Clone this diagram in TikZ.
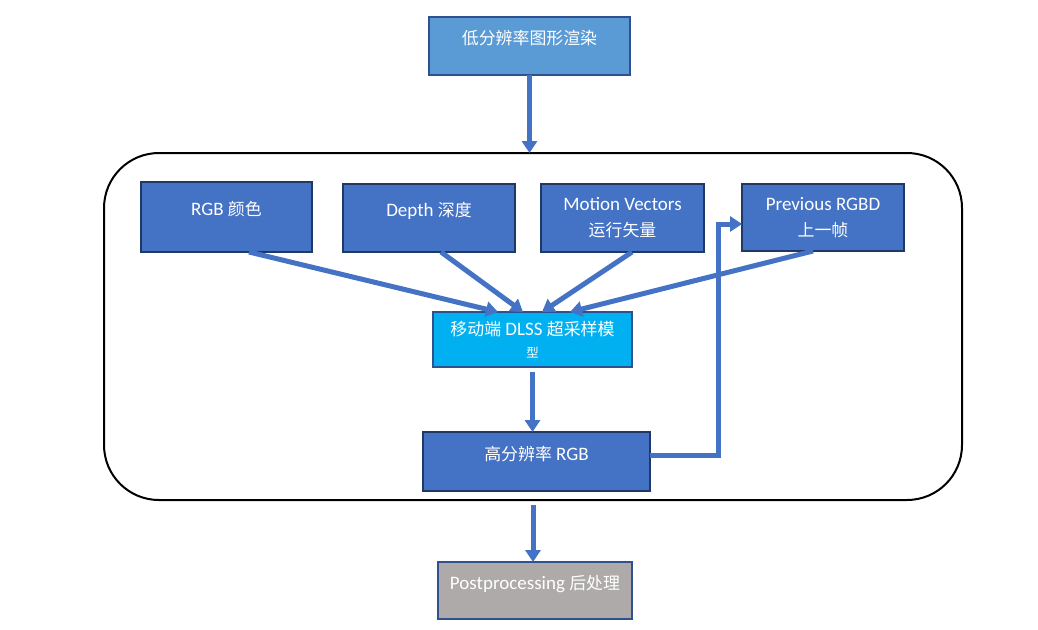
\documentclass[tikz,border=0pt]{standalone}
\usepackage{fontspec}
\setmainfont{Carlito}
\newfontfamily\cjk[Scale=0.89]{Noto Sans CJK SC}
\usetikzlibrary{arrows.meta}
\definecolor{boxblue}{HTML}{4472C4}
\definecolor{boxedge}{HTML}{1F3864}
\definecolor{lightedge}{HTML}{2F528F}
\definecolor{topblue}{HTML}{5B9BD5}
\definecolor{dlsscyan}{HTML}{00B0F0}
\definecolor{postgray}{HTML}{AEAAAA}
\definecolor{arrowblue}{HTML}{4472C4}
\tikzset{
  box/.style={draw=boxedge, line width=2.5pt, fill=boxblue, text=white,
    inner sep=0pt, outer sep=0pt, align=center,
    font=\fontsize{19}{26}\selectfont},
  raised/.style={text height=13pt, text depth=16pt},
  flow/.style={draw=arrowblue, line width=5pt,
    -{Triangle[width=15pt,length=12pt]}},
}
\begin{document}
\begin{tikzpicture}[x=1pt,y=-1pt]
\useasboundingbox (0,0) rectangle (1038,629);
% frame round the model
\node[draw, line width=2pt, rounded corners=55pt, minimum width=858pt,
  minimum height=347pt, outer sep=0pt] (frame) at (533,326.5) {};
% boxes
\node[box, raised, fill=topblue, draw=lightedge, minimum width=201pt, minimum height=58pt]
  (render) at (529.5,46) {\cjk 低分辨率图形渲染};
\node[box, raised, minimum width=171pt, minimum height=70pt]
  (rgb) at (226.5,217) {RGB {\cjk 颜色}};
\node[box, raised, minimum width=172pt, minimum height=68pt]
  (depth) at (429,218) {Depth {\cjk 深度}};
\node[box, minimum width=163pt, minimum height=68pt]
  (motion) at (622.5,218) {Motion Vectors\\{\cjk 运行矢量}};
\node[box, minimum width=162pt, minimum height=67pt]
  (prev) at (823,217.5) {Previous RGBD\\{\cjk 上一帧}};
\node[box, fill=dlsscyan, draw=lightedge, minimum width=199pt, minimum height=55pt]
  (dlss) at (532.5,339.5) {{\cjk 移动端} DLSS {\cjk 超采样模}\\[-4pt]{\fontsize{14}{16}\selectfont\cjk 型}};
\node[box, raised, minimum width=227pt, minimum height=59pt]
  (hires) at (536.5,461.5) {{\cjk 高分辨率} RGB};
\node[box, raised, fill=postgray, draw=lightedge, minimum width=194pt, minimum height=57pt]
  (post) at (535,590.5) {Postprocessing {\cjk 后处理}};
% connectors
\draw[flow] (render.south) -- (render.south |- frame.north);
\draw[flow] ([xshift=22.5pt]rgb.south) -- ([xshift=-34.5pt]dlss.north);
\draw[flow] ([xshift=12pt]depth.south) -- ([xshift=-9.5pt]dlss.north);
\draw[flow] ([xshift=9.5pt]motion.south) -- ([xshift=9.5pt]dlss.north);
\draw[flow] ([xshift=-10pt]prev.south) -- ([xshift=37.5pt]dlss.north);
\draw[flow] ([yshift=-5pt]dlss.south) -- (dlss.south |- hires.north);
\draw[flow] ([yshift=6.5pt]hires.east) -- ++(68,0) |- ([yshift=-6.5pt]prev.west);
\draw[flow] ([yshift=-5pt]frame.south) -- (frame.south |- post.north);
\end{tikzpicture}
\end{document}
